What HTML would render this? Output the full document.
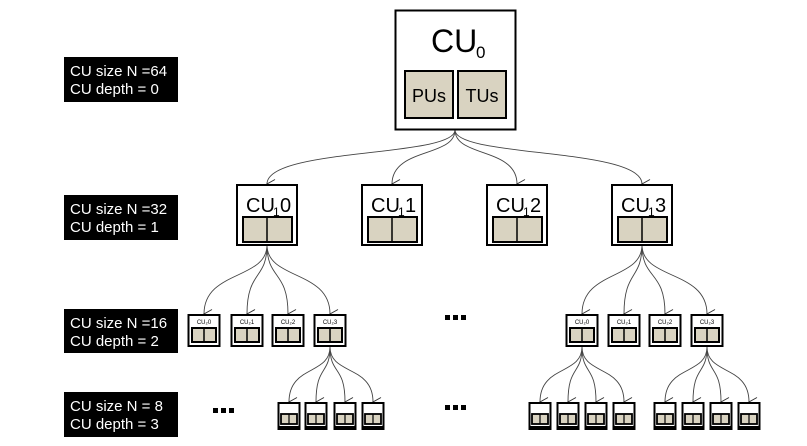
<!DOCTYPE html>
<html><head><meta charset="utf-8"><style>
html,body{margin:0;padding:0;background:#fff;width:807px;height:446px;overflow:hidden}
svg{display:block}
text{font-family:"Liberation Sans","DejaVu Sans",sans-serif}
</style></head><body>
<svg id="s" width="807" height="446" viewBox="0 0 807 446" xmlns="http://www.w3.org/2000/svg">
<defs><marker id="a" markerWidth="10" markerHeight="10" refX="5" refY="9" orient="auto" markerUnits="userSpaceOnUse"><path d="M0.5,1 L5,9 L9.5,1" fill="none" stroke="#333" stroke-width="1"/></marker></defs>
<g id="edges" fill="none" stroke="#444" stroke-width="0.9"></g>
<g id="boxes"></g>
<!-- labels -->
<rect x="64" y="57" width="114" height="45" fill="#000"/>
<text x="70" y="76" fill="#fff" font-size="15">CU size N =64</text>
<text x="70" y="94" fill="#fff" font-size="15">CU depth = 0</text>
<rect x="64" y="195" width="114" height="45" fill="#000"/>
<text x="70" y="214" fill="#fff" font-size="15">CU size N =32</text>
<text x="70" y="232" fill="#fff" font-size="15">CU depth = 1</text>
<rect x="64" y="309" width="114" height="44" fill="#000"/>
<text x="70" y="328" fill="#fff" font-size="15">CU size N =16</text>
<text x="70" y="346" fill="#fff" font-size="15">CU depth = 2</text>
<rect x="64" y="392" width="114" height="45" fill="#000"/>
<text x="70" y="411" fill="#fff" font-size="15">CU size N = 8</text>
<text x="70" y="429" fill="#fff" font-size="15">CU depth = 3</text>
<!-- top box -->
<rect x="395.5" y="10.5" width="120" height="119" fill="#fff" stroke="#000" stroke-width="2"/>
<text x="431" y="52" font-size="32">CU</text><text x="476" y="58" font-size="17">0</text>
<rect x="405" y="71" width="48" height="47" fill="#d9d3c1" stroke="#000" stroke-width="2"/>
<rect x="458" y="71" width="48" height="47" fill="#d9d3c1" stroke="#000" stroke-width="2"/>
<text x="429" y="102" font-size="18" text-anchor="middle">PUs</text>
<text x="482" y="102" font-size="18" text-anchor="middle">TUs</text>
<!-- level1 text -->
<text x="246" y="212" font-size="20">CU</text><text x="273" y="216" font-size="12">1</text><text x="280" y="212" font-size="20">0</text>
<text x="371" y="212" font-size="20">CU</text><text x="398" y="216" font-size="12">1</text><text x="405" y="212" font-size="20">1</text>
<text x="496" y="212" font-size="20">CU</text><text x="523" y="216" font-size="12">1</text><text x="530" y="212" font-size="20">2</text>
<text x="621" y="212" font-size="20">CU</text><text x="648" y="216" font-size="12">1</text><text x="655" y="212" font-size="20">3</text>
<!-- level2 text -->
<text x="204" y="324" font-size="6" text-anchor="middle">CU₂0</text>
<text x="247" y="324" font-size="6" text-anchor="middle">CU₂1</text>
<text x="288" y="324" font-size="6" text-anchor="middle">CU₂2</text>
<text x="330" y="324" font-size="6" text-anchor="middle">CU₂3</text>
<text x="582" y="324" font-size="6" text-anchor="middle">CU₂0</text>
<text x="624" y="324" font-size="6" text-anchor="middle">CU₂1</text>
<text x="665" y="324" font-size="6" text-anchor="middle">CU₂2</text>
<text x="707" y="324" font-size="6" text-anchor="middle">CU₂3</text>
<!-- dots -->
<g fill="#000">
<rect x="213" y="408" width="5" height="5"/><rect x="221" y="408" width="5" height="5"/><rect x="229" y="408" width="5" height="5"/>
<rect x="445" y="315" width="5" height="5"/><rect x="453" y="315" width="5" height="5"/><rect x="461" y="315" width="5" height="5"/>
<rect x="445" y="405" width="5" height="5"/><rect x="453" y="405" width="5" height="5"/><rect x="461" y="405" width="5" height="5"/>
</g>
</svg>
<script>
var NS="http://www.w3.org/2000/svg";
function el(p,t,a){var e=document.createElementNS(NS,t);for(var k in a)e.setAttribute(k,a[k]);document.getElementById(p).appendChild(e);return e;}
function edge(x1,y1,x2,y2){var my=(y1+y2)/2;el("edges","path",{d:"M"+x1+","+y1+" C"+x1+","+(my)+" "+x2+","+(my-10)+" "+x2+","+(y2-1),"marker-end":"url(#a)"});}
[267,392,517,642].forEach(function(x){edge(455,130,x,185);
 el("boxes","rect",{x:x-30,y:185,width:60,height:60,fill:"#fff",stroke:"#000","stroke-width":2});
 el("boxes","rect",{x:x-24,y:217,width:49,height:25,fill:"#d9d3c1",stroke:"#000","stroke-width":2});
 el("boxes","line",{x1:x,y1:217,x2:x,y2:242,stroke:"#000","stroke-width":1.5});});
function l2(px,xs){xs.forEach(function(x){edge(px,245,x,315);});}
l2(267,[204,247,288,330]);l2(642,[582,624,665,707]);
[204,247,288,330,582,624,665,707].forEach(function(x){
 el("boxes","rect",{x:x-15.5,y:315,width:31,height:31,fill:"#fff",stroke:"#000","stroke-width":2});
 el("boxes","rect",{x:x-12,y:328,width:24,height:14,fill:"#d9d3c1",stroke:"#000","stroke-width":2});
 el("boxes","line",{x1:x,y1:328,x2:x,y2:342,stroke:"#000","stroke-width":1.5});});
function l3(px,xs){xs.forEach(function(x){edge(px,347,x,403);
 el("boxes","rect",{x:x-10.5,y:403,width:21,height:26,fill:"#fff",stroke:"#000","stroke-width":2});
 el("boxes","rect",{x:x-8,y:414,width:16,height:10,fill:"#d9d3c1",stroke:"#000","stroke-width":1.8});
 el("boxes","line",{x1:x,y1:414,x2:x,y2:424,stroke:"#000","stroke-width":1.2});
 el("boxes","line",{x1:x-10,y1:427,x2:x+10,y2:427,stroke:"#000","stroke-width":2});});}
l3(330,[289,316,345,373]);l3(582,[540,568,596,624]);l3(707,[665,693,721,749]);
</script>
</body></html>
